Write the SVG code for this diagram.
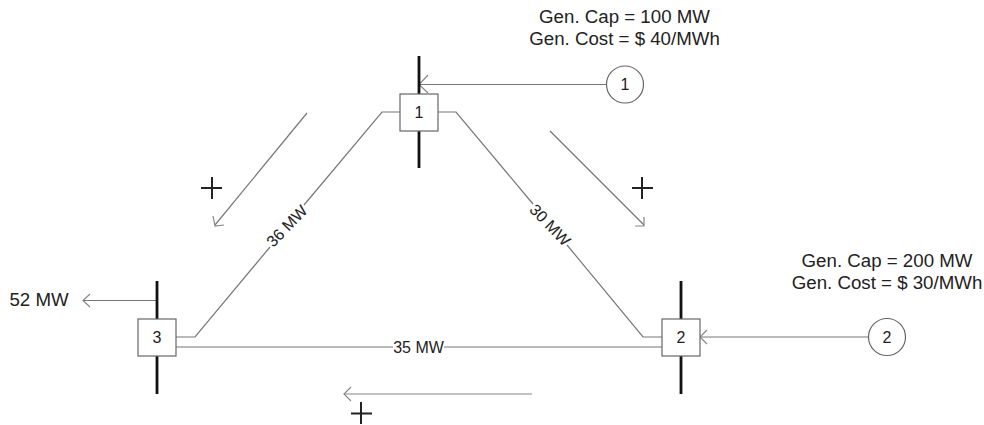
<svg xmlns="http://www.w3.org/2000/svg" width="984" height="425" viewBox="0 0 984 425">
<style>
text{font-family:"Liberation Sans",Arial,sans-serif;font-size:16px;fill:#222;text-anchor:middle}
.big{font-size:18.7px}
.l{fill:none;stroke:#777;stroke-width:1.2}
.h{fill:none;stroke:#888;stroke-width:1.2}
.bar{stroke:#111;stroke-width:2.8;fill:none}
.box{fill:#fff;stroke:#666;stroke-width:1.2}
.plus{stroke:#222;stroke-width:2;fill:none}
</style>
<rect width="984" height="425" fill="#fff"/>
<g id="connectors">
<path class="l" d="M400 112H382L304 205M270 247L195 337H176"/>
<path class="l" d="M438 112H456L533 204M567 245L643 337H662"/>
<path class="l" d="M176 347H393M444 347H662"/>
<path class="l" d="M419 84.500H606"/>
<path class="h" d="M428 75L419 84.500L428 93"/>
<path class="l" d="M700 337H868"/>
<path class="h" d="M707 330L700 337L707 344"/>
<path class="l" d="M157 300.500H83"/>
<path class="h" d="M90 294L83 300.500L90 307"/>
<path class="l" d="M307 113L215 225"/>
<path class="h" d="M213 216L215 226L224 225"/>
<path class="l" d="M550 131L644 225"/>
<path class="h" d="M644 217L644 226L635 226"/>
<path class="h" stroke-width="1.800" d="M532 394H344"/>
<path class="h" d="M351 387L344 394L351 401"/>
</g>
<g id="bus1"><path class="bar" d="M419 56V168"/><rect class="box" x="400" y="94" width="38" height="37"/><text x="419" y="118">1</text></g>
<g id="bus2"><path class="bar" d="M681 281V394"/><rect class="box" x="662" y="319" width="38" height="37"/><text x="681" y="343">2</text></g>
<g id="bus3"><path class="bar" d="M157 281V394"/><rect class="box" x="138" y="319" width="38" height="37"/><text x="157" y="343">3</text></g>
<g id="gen1"><circle class="box" cx="625" cy="84.500" r="18.500"/><text x="625" y="90">1</text></g>
<g id="gen2"><circle class="box" cx="887" cy="337" r="18.500"/><text x="887" y="343">2</text></g>
<g id="labels">
<text class="big" x="624.500" y="23">Gen. Cap = 100 MW</text>
<text class="big" x="624.500" y="45">Gen. Cost = $ 40/MWh</text>
<text class="big" x="887" y="267">Gen. Cap = 200 MW</text>
<text class="big" x="887" y="289">Gen. Cost = $ 30/MWh</text>
<text class="big" x="39" y="306">52 MW</text>
<text x="418.500" y="352.500">35 MW</text>
<text transform="translate(287 226) rotate(-46)" y="5.500">36 MW</text>
<text transform="translate(550 225) rotate(46)" y="5.500">30 MW</text>
</g>
<g id="signs">
<path class="plus" d="M201 188H222M212 177V199"/>
<path class="plus" d="M632 188H653M642 177V199"/>
<path class="plus" d="M351 413.500H372M361 402V424"/>
</g>
</svg>
